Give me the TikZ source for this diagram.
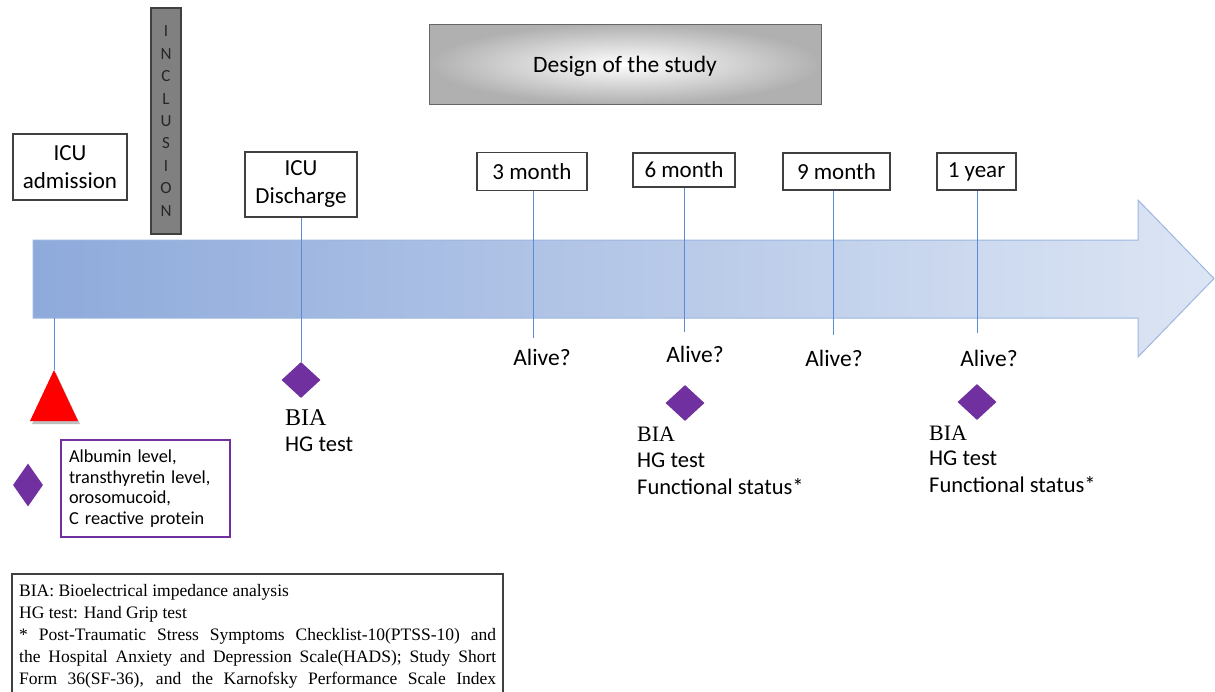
\documentclass[tikz,border=0pt]{standalone}
\usepackage{fontspec}
\setmainfont{Carlito}
\newfontfamily\serifface{Liberation Serif}
\usetikzlibrary{shapes.geometric}
\definecolor{lineblue}{HTML}{5B8BD3}
\definecolor{arrowL}{HTML}{8EAADB}
\definecolor{arrowR}{HTML}{DCE5F4}
\definecolor{arrowEdge}{HTML}{9DB6E0}
\definecolor{purp}{HTML}{7030A0}
\definecolor{boxedge}{HTML}{404040}
\definecolor{incfill}{HTML}{808080}
\tikzset{
  tbox/.style={draw=boxedge, line width=1.2pt, fill=white, inner sep=0pt, align=center, font=\fontsize{23}{28}\selectfont},
  mbox/.style={tbox, font=\fontsize{23}{27}\selectfont},
  tline/.style={draw=lineblue, line width=0.9pt},
  diam/.style={diamond, fill=purp, inner sep=0pt, minimum width=39pt, minimum height=36pt},
  lbl/.style={inner sep=0pt, font=\fontsize{23.5}{27}\selectfont},
  bial/.style={inner sep=0pt, anchor=base west, font=\serifface\fontsize{22}{26}\selectfont},
  txtl/.style={inner sep=0pt, anchor=base west, font=\fontsize{22.5}{26}\selectfont},
  legl/.style={inner sep=0pt, anchor=base west, font=\serifface\fontsize{17.5}{22}\selectfont}
}
\begin{document}
\begin{tikzpicture}[x=1pt,y=-1pt]
\useasboundingbox (0,0) rectangle (1215,691);
% arrow
\path[left color=arrowL, right color=arrowR, draw=arrowEdge, line width=1pt]
  (33,240) -- (1138,240) -- (1138,200) -- (1214,278.5) -- (1138,357) -- (1138,318) -- (33,318) -- cycle;
% title
\node[draw=gray!80!black, line width=1pt, inner color=white, outer color=gray!62, minimum width=392pt, minimum height=80pt] (title) at (625,64) {};
\node[inner sep=0pt, font=\fontsize{23.5}{27}\selectfont] (titletext) at (625,66) {Design of the study};
% inclusion bar
\node[draw=boxedge, line width=1.2pt, fill=incfill, minimum width=30pt, minimum height=226pt, inner sep=0pt, align=center, font=\fontsize{17}{22.4}\selectfont, text=black!85] (incl) at (166,121) {I\\N\\C\\L\\U\\S\\I\\O\\N};
% boxes
\node[tbox, minimum width=114pt, minimum height=66pt] (adm) at (70,167) {ICU\\admission};
\node[tbox, minimum width=112pt, minimum height=65pt] (dis) at (301,184.5) {ICU\\Discharge};
\node[mbox, minimum width=110pt, minimum height=38pt] (m3) at (532,171.5) {3 month};
\node[mbox, minimum width=102pt, minimum height=34pt] (m6) at (684,170) {6 month};
\node[mbox, minimum width=107pt, minimum height=37pt] (m9) at (836.5,171.5) {9 month};
\node[mbox, minimum width=79pt, minimum height=37pt] (y1) at (976.5,171.5) {1 year};
% admission marker
\coordinate (admA) at (54,318);
\coordinate (triTop) at (54,370);
\fill[black, opacity=0.25] (32,424) -- (56,373) -- (80,424) -- cycle;
\fill[red] (30,421) -- (triTop) -- (78,421) -- cycle;
\draw[tline] (admA) -- (triTop);
% diamonds
\node[diam, minimum width=30pt, minimum height=43pt] (d0) at (28,485) {};
\node[diam] (d1) at (301,380) {};
\node[diam] (d2) at (685,403) {};
\node[diam] (d3) at (977,402) {};
% connector lines
\coordinate (a3) at (533,338);
\coordinate (a6) at (684,332);
\coordinate (a9) at (833,335);
\coordinate (a12) at (977,333);
\draw[tline] (dis.south) -- (d1.north);
\draw[tline] (m3.south -| a3) -- (a3);
\draw[tline] (m6.south -| a6) -- (a6);
\draw[tline] (m9.south -| a9) -- (a9);
\draw[tline] (y1.south -| a12) -- (a12);
% alive labels
\node[lbl] (al3) at (542,357) {Alive?};
\node[lbl] (al6) at (695,354) {Alive?};
\node[lbl] (al9) at (834,358) {Alive?};
\node[lbl] (al12) at (989,358) {Alive?};
% measurement texts
\node[bial, font=\serifface\fontsize{24}{28}\selectfont] (b1) at (285,425) {BIA};
\node[txtl] (h1) at (285,451) {HG test};
\node[bial] (b2) at (637,441) {BIA};
\node[txtl] (h2) at (637,467) {HG test};
\node[txtl] (f2) at (637,494) {Functional status*};
\node[bial] (b3) at (929,440) {BIA};
\node[txtl] (h3) at (929,465) {HG test};
\node[txtl] (f3) at (929,492) {Functional status*};
% albumin box
\node[draw=purp, line width=1.2pt, minimum width=169pt, minimum height=97pt, text width=153pt, inner sep=0pt, align=left, font=\fontsize{18.3}{20.7}\selectfont] (alb) at (145.5,488.5) {Albumin level,\\transthyretin level,\\orosomucoid,\\C reactive protein};
% legend
\draw[boxedge, line width=1.2pt] (12,692) -- (12,574) -- (503,574) -- (503,692);
\node[legl] (l1) at (19,596) {BIA: Bioelectrical impedance analysis};
\node[legl] (l2) at (19,618) {HG test: Hand Grip test};
\node[legl] (l3) at (19,640) {\makebox[477pt][s]{* Post-Traumatic Stress Symptoms Checklist-10(PTSS-10) and}};
\node[legl] (l4) at (19,662) {\makebox[477pt][s]{the Hospital Anxiety and Depression Scale(HADS); Study Short}};
\node[legl] (l5) at (19,684) {\makebox[477pt][s]{Form 36(SF-36), and the Karnofsky Performance Scale Index}};
\end{tikzpicture}
\end{document}
